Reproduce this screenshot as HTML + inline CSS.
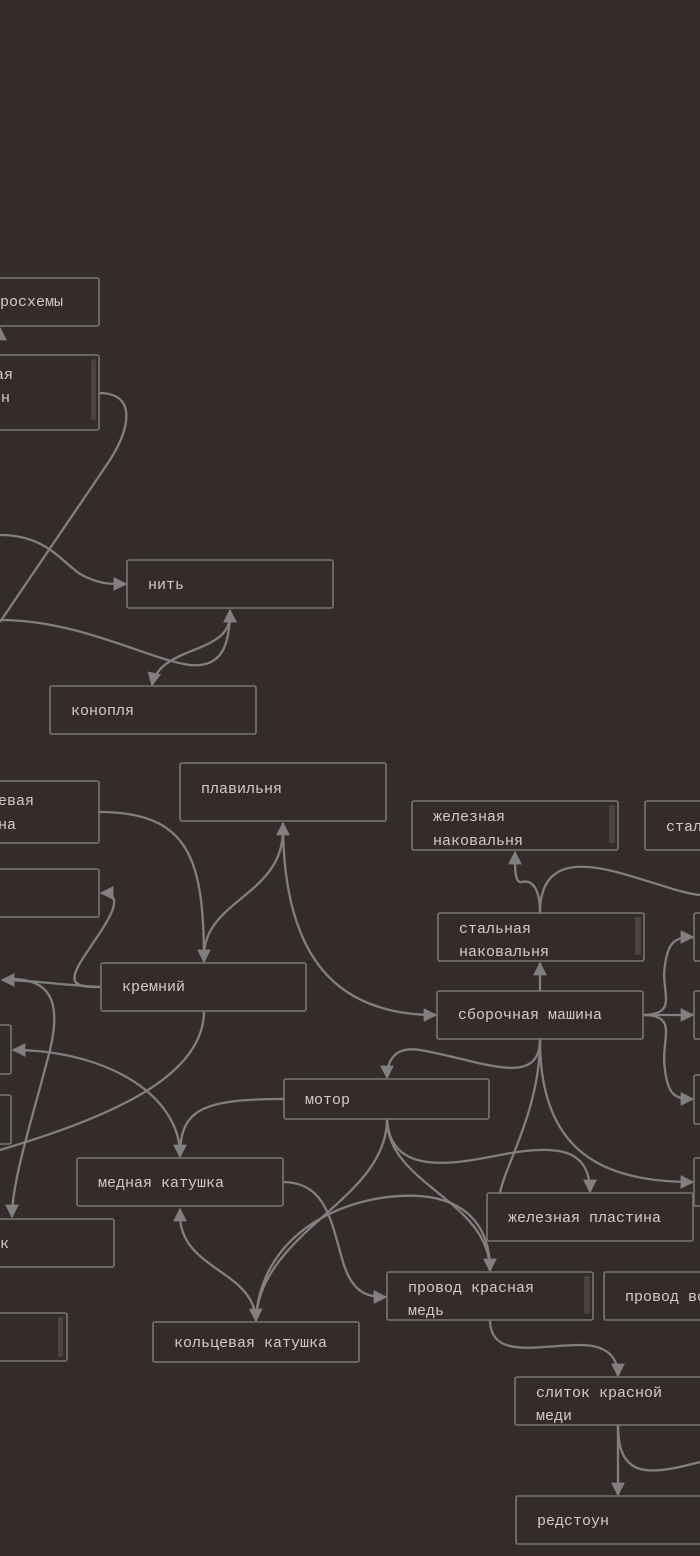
<!DOCTYPE html>
<html><head><meta charset="utf-8"><style>
html,body{margin:0;padding:0;background:#332c2a;}
svg{display:block}
text{font-family:"Liberation Mono","DejaVu Sans Mono",monospace;font-size:15px;fill:#d4ccc4;}
.b{fill:#332c2a;stroke:#7a7573;stroke-width:1.6}
.e{fill:none;stroke:#808080;stroke-width:2.3}
.s{fill:#4a4341}
</style></head><body>
<svg width="700" height="1556" viewBox="0 0 700 1556" xmlns="http://www.w3.org/2000/svg">
<defs><marker id="a" viewBox="0 0 10 10" refX="9" refY="5" markerWidth="6" markerHeight="6" orient="auto"><path d="M0,0L10,5L0,10z" fill="#808080"/></marker></defs>

<path class="e" d="M99,393 C135,393 132,425 110,460 L0,622"/>
<path class="e" d="M0,535 C45,535 60,560 80,574 C100,585 112,584 126,584" marker-end="url(#a)"/>
<path class="e" d="M0,620 C80,620 150,660 190,665 C222,668 230,645 230,610" marker-end="url(#a)"/>
<path class="e" d="M230,615 C230,655 160,645 152,685" marker-end="url(#a)"/>
<path class="e" d="M0,335 L0,328" marker-end="url(#a)"/>
<path class="e" d="M99,812 C190,812 204,860 204,962" marker-end="url(#a)"/>
<path class="e" d="M283,830 C283,895 205,900 204,955"/>
<path class="e" d="M283,830 C285,950 330,1015 436,1015" marker-end="url(#a)"/>
<path class="e" d="M283,835 L283,823" marker-end="url(#a)"/>
<path class="e" d="M101,987 C75,987 65,985 85,955 C105,925 130,893 101,893" marker-end="url(#a)"/>
<path class="e" d="M101,987 C60,985 30,980 2,980" marker-end="url(#a)"/>
<path class="e" d="M5,979 C50,977 62,1000 50,1050 C32,1120 12,1180 12,1217" marker-end="url(#a)"/>
<path class="e" d="M204,1011 C204,1080 100,1120 0,1150"/>
<path class="e" d="M284,1099 C200,1099 180,1110 180,1157" marker-end="url(#a)"/>
<path class="e" d="M180,1150 C175,1090 100,1050 13,1050" marker-end="url(#a)"/>
<path class="e" d="M283,1182 C330,1182 332,1230 345,1268 C355,1295 370,1297 386,1297" marker-end="url(#a)"/>
<path class="e" d="M180,1215 C180,1270 255,1270 256,1321" marker-end="url(#a)"/>
<path class="e" d="M180,1210 L180,1209" marker-end="url(#a)"/>
<path class="e" d="M387,1119 C387,1200 262,1230 256,1318"/>
<path class="e" d="M256,1318 C262,1230 350,1192 420,1196 C470,1200 490,1230 490,1270"/>
<path class="e" d="M387,1119 C387,1185 490,1200 490,1271" marker-end="url(#a)"/>
<path class="e" d="M387,1119 C390,1175 450,1165 500,1155 C560,1143 590,1150 590,1192" marker-end="url(#a)"/>
<path class="e" d="M540,1039 C540,1090 480,1060 420,1050 C395,1046 387,1060 387,1078" marker-end="url(#a)"/>
<path class="e" d="M540,1040 C540,1110 505,1165 500,1193"/>
<path class="e" d="M540,1040 C540,1150 600,1182 693,1182" marker-end="url(#a)"/>
<path class="e" d="M540,991 L540,963" marker-end="url(#a)"/>
<path class="e" d="M540,913 C540,885 530,880 522,882 C514,884 515,865 515,852" marker-end="url(#a)"/>
<path class="e" d="M540,913 C540,860 580,862 620,873 C660,884 680,893 700,895"/>
<path class="e" d="M643,1015 L693,1015" marker-end="url(#a)"/>
<path class="e" d="M643,1015 C680,1015 660,990 665,965 C668,942 675,937 693,937" marker-end="url(#a)"/>
<path class="e" d="M643,1015 C680,1015 660,1040 665,1070 C668,1095 675,1099 693,1099" marker-end="url(#a)"/>
<path class="e" d="M490,1320 C490,1360 540,1345 580,1345 C610,1345 618,1360 618,1376" marker-end="url(#a)"/>
<path class="e" d="M618,1425 L618,1495" marker-end="url(#a)"/>
<path class="e" d="M618,1425 C618,1480 650,1475 700,1462"/>

<rect class="b" x="-10" y="278" width="109" height="48" rx="2"/><text x="-27" y="306">микросхемы</text>
<rect class="b" x="-10" y="355" width="109" height="75" rx="2"/><rect class="s" x="91" y="359" width="5" height="61" rx="2"/>
<text x="13" y="379" text-anchor="end">печатная</text><text x="10" y="402" text-anchor="end">плата ин</text>
<rect class="b" x="127" y="560" width="206" height="48" rx="2"/><text x="148" y="589">нить</text>
<rect class="b" x="50" y="686" width="206" height="48" rx="2"/><text x="71" y="715">конопля</text>
<rect class="b" x="-10" y="781" width="109" height="62" rx="2"/><text x="34" y="805" text-anchor="end">кремниевая</text><text x="16" y="829" text-anchor="end">пластина</text>
<rect class="b" x="-10" y="869" width="109" height="48" rx="2"/>
<rect class="b" x="180" y="763" width="206" height="58" rx="2"/><text x="201" y="793">плавильня</text>
<rect class="b" x="101" y="963" width="205" height="48" rx="2"/><text x="122" y="991">кремний</text>
<rect class="b" x="-10" y="1025" width="21" height="49" rx="2"/>
<rect class="b" x="-10" y="1095" width="21" height="49" rx="2"/>
<rect class="b" x="284" y="1079" width="205" height="40" rx="2"/><text x="305" y="1104">мотор</text>
<rect class="b" x="77" y="1158" width="206" height="48" rx="2"/><text x="98" y="1187">медная катушка</text>
<rect class="b" x="-10" y="1219" width="124" height="48" rx="2"/><text x="9" y="1248" text-anchor="end">слиток</text>
<rect class="b" x="-10" y="1313" width="77" height="48" rx="2"/><rect class="s" x="58" y="1317" width="5" height="40" rx="2"/>
<rect class="b" x="153" y="1322" width="206" height="40" rx="2"/><text x="174" y="1347">кольцевая катушка</text>
<rect class="b" x="412" y="801" width="206" height="49" rx="2"/><rect class="s" x="609" y="805" width="6" height="38" rx="2"/>
<text x="433" y="821">железная</text><text x="433" y="845">наковальня</text>
<rect class="b" x="645" y="801" width="70" height="49" rx="2"/><text x="666" y="831">стальной</text>
<rect class="b" x="438" y="913" width="206" height="48" rx="2"/><rect class="s" x="635" y="917" width="6" height="38" rx="2"/>
<text x="459" y="933">стальная</text><text x="459" y="956">наковальня</text>
<rect class="b" x="437" y="991" width="206" height="48" rx="2"/><text x="458" y="1019">сборочная машина</text>
<rect class="b" x="694" y="913" width="20" height="48" rx="2"/>
<rect class="b" x="694" y="991" width="20" height="48" rx="2"/>
<rect class="b" x="694" y="1075" width="20" height="49" rx="2"/>
<rect class="b" x="694" y="1158" width="20" height="48" rx="2"/>
<rect class="b" x="487" y="1193" width="206" height="48" rx="2"/><text x="508" y="1222">железная пластина</text>
<rect class="b" x="387" y="1272" width="206" height="48" rx="2"/><rect class="s" x="584" y="1276" width="6" height="38" rx="2"/>
<text x="408" y="1292">провод красная</text><text x="408" y="1315">медь</text>
<rect class="b" x="604" y="1272" width="110" height="48" rx="2"/><text x="625" y="1301">провод во</text>
<rect class="b" x="515" y="1377" width="200" height="48" rx="2"/><text x="536" y="1397">слиток красной</text><text x="536" y="1420">меди</text>
<rect class="b" x="516" y="1496" width="200" height="48" rx="2"/><text x="537" y="1525">редстоун</text>
</svg>
</body></html>
